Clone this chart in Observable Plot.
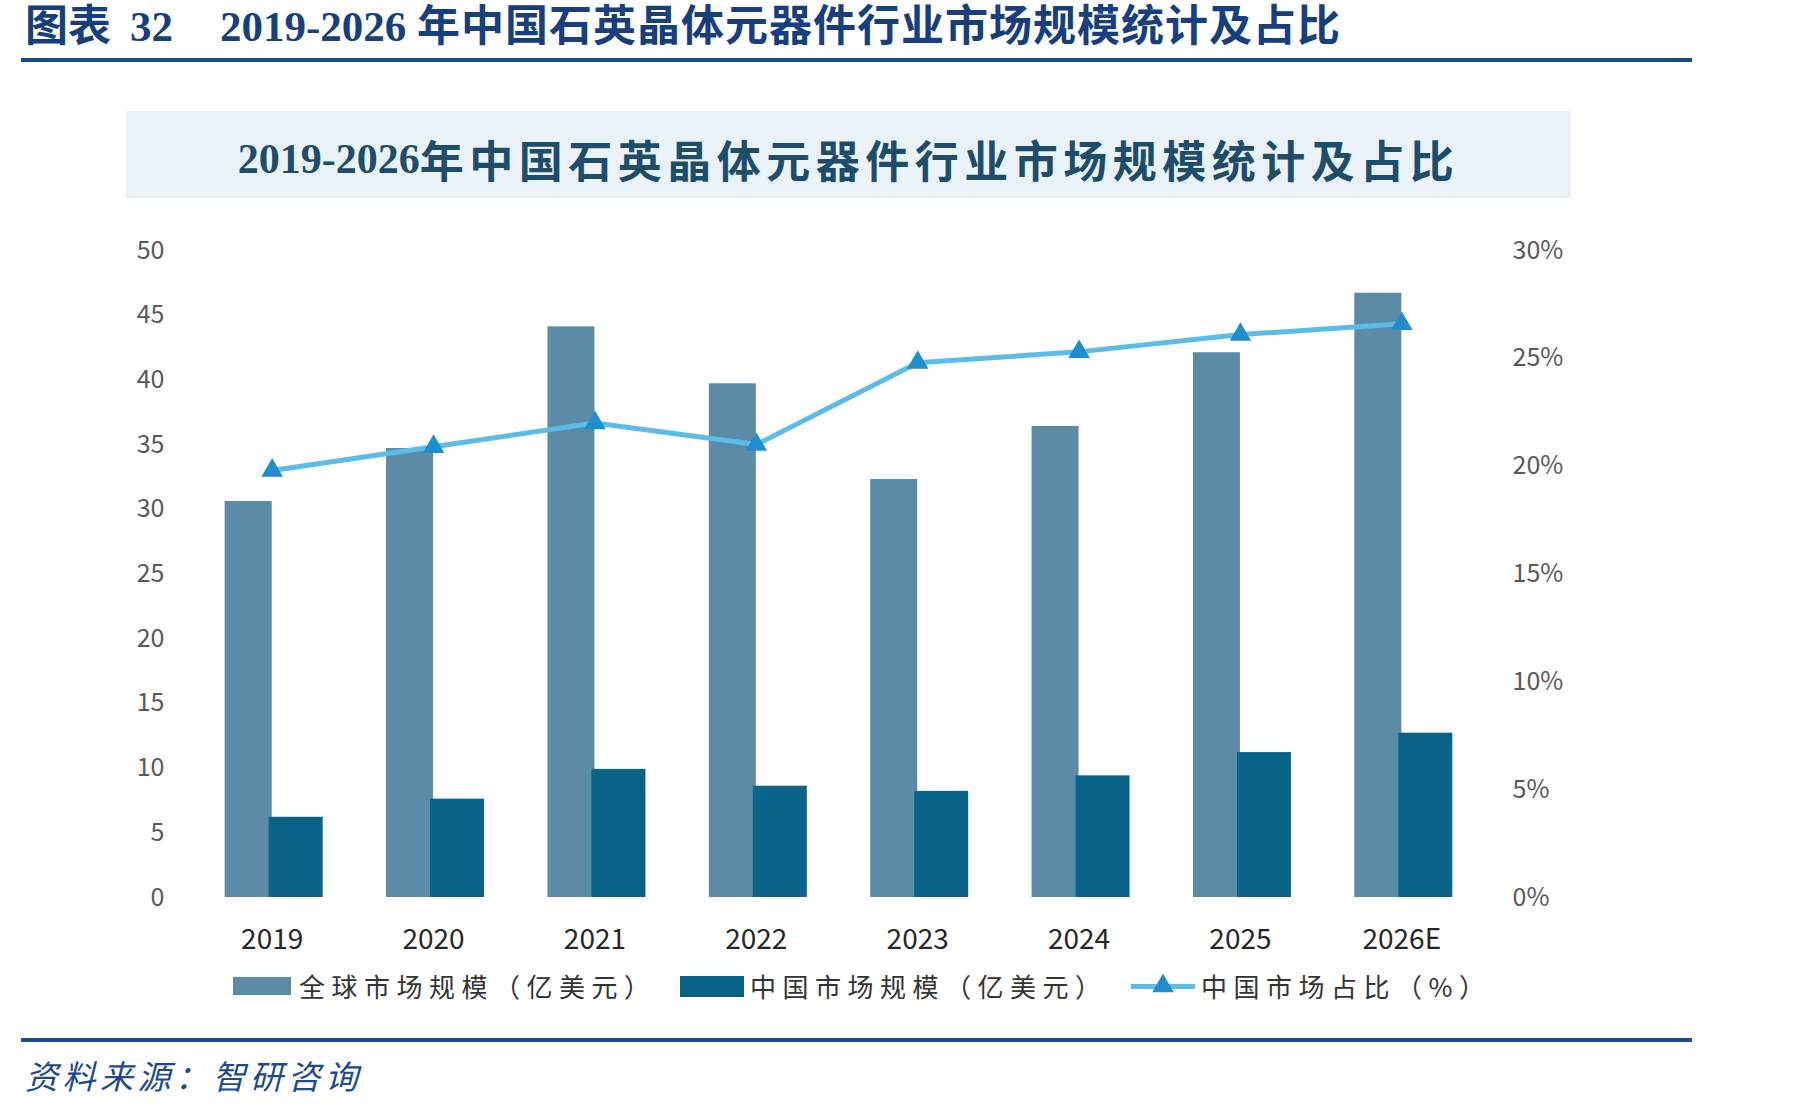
<!DOCTYPE html>
<html>
<head>
<meta charset="utf-8">
<script src="https://cdn.jsdelivr.net/npm/d3@7"></script>
<script src="https://cdn.jsdelivr.net/npm/@observablehq/plot@0.6"></script>
<style>
  html, body { margin: 0; padding: 0; background: #ffffff; }
  body { width: 1801px; height: 1108px; position: relative; overflow: hidden; font-family: "Noto Sans CJK SC", "Noto Sans", sans-serif; }
  .abs { position: absolute; }
  #header { left: 25px; top: 2px; font-family: "Liberation Serif", "Noto Sans CJK SC", serif; font-weight: bold; font-size: 43px; color: #173f7d; white-space: pre; line-height: 50px; }
  #header .cjk { letter-spacing: 1px; }
  .rule { left: 21px; width: 1671px; height: 4px; background: #1d4a8c; }
  #band { left: 126px; top: 111px; width: 1445px; height: 87px; background: #eaf3fa; }
  #ctitle { left: 126px; top: 115px; width: 1445px; height: 87px; display: flex; align-items: center; justify-content: center; color: #1e4c6b; font-weight: bold; white-space: pre; }
  #ctitle .num { font-family: "Liberation Serif", serif; font-size: 42px; }
  #ctitle .cjk { font-family: "Noto Sans CJK SC", sans-serif; font-size: 44px; letter-spacing: 5.5px; }
  #chart { left: 0; top: 200px; }
  .leg { font-size: 26px; letter-spacing: 6.5px; color: #333333; line-height: 30px; white-space: pre; }
  #caption { left: 25px; top: 1052px; font-size: 33px; font-style: italic; color: #1d4a8c; letter-spacing: 4.5px; white-space: pre; line-height: 46px; }
</style>
</head>
<body>
<div id="header" class="abs"><span>图表</span><span style="margin-left:19px">32</span><span style="margin-left:47px">2019-2026 </span><span class="cjk">年中国石英晶体元器件行业市场规模统计及占比</span></div>
<div class="abs rule" style="top:58px"></div>
<div id="band" class="abs"></div>
<div id="ctitle" class="abs"><span class="num">2019-2026</span><span class="cjk">年中国石英晶体元器件行业市场规模统计及占比</span></div>
<div id="chart" class="abs"></div>
<div id="legend"></div>
<div class="abs rule" style="top:1038px"></div>
<div id="caption" class="abs">资料来源：智研咨询</div>
<script>
// ---- data ----
const years = ["2019", "2020", "2021", "2022", "2023", "2024", "2025", "2026E"];
const globalMarket = [30.6, 34.7, 44.1, 39.7, 32.3, 36.4, 42.1, 46.7];   // 亿美元
const chinaMarket  = [6.2, 7.6, 9.9, 8.6, 8.2, 9.4, 11.2, 12.7];         // 亿美元
const chinaShare   = [19.8, 20.9, 22.0, 21.0, 24.8, 25.3, 26.1, 26.6];   // %
const leftTicks  = [0, 5, 10, 15, 20, 25, 30, 35, 40, 45, 50];
const rightTicks = [0, 5, 10, 15, 20, 25, 30];                           // %
const seriesNames = ["全球市场规模（亿美元）", "中国市场规模（亿美元）", "中国市场占比（%）"];
const colors = ["#5b8ba6", "#0a6389", "#5cbce8"];
const markerColor = "#1f8ecf";

// ---- layout ----
const W = 1801, H = 800;
const mL = 191, mR = 319, mT = 50, mB = 103;
const step = (W - mL - mR) / years.length;
const yMax = 50, shareMax = 30;

const rows = years.map((y, i) => ({year: y, g: globalMarket[i], c: chinaMarket[i], s: chinaShare[i]}));

const chart = Plot.plot({
  width: W, height: H,
  marginLeft: mL, marginRight: mR, marginTop: mT, marginBottom: mB,
  style: {fontFamily: "'Noto Sans CJK SC', 'Noto Sans', sans-serif", background: "transparent"},
  x: {type: "band", domain: years, padding: 0, round: false},
  y: {domain: [0, yMax]},
  marks: [
    Plot.barY(rows, {x: "year", y: "g", fill: colors[0], insetLeft: step / 2 - 47, insetRight: step / 2}),
    Plot.barY(rows, {x: "year", y: "c", fill: colors[1], insetLeft: step / 2 - 3, insetRight: step / 2 - 51}),
    Plot.ruleY([0], {stroke: "#d9d9d9", strokeWidth: 1.5, x1: mL + 4, x2: W - mR}),
    Plot.line(rows, {x: "year", y: d => d.s * yMax / shareMax, stroke: colors[2], strokeWidth: 5}),
    Plot.dot(rows, {x: "year", y: d => d.s * yMax / shareMax, symbol: "triangle", r: 8, fill: markerColor, stroke: "none"}),
    Plot.axisY(leftTicks, {anchor: "left", tickSize: 0, tickPadding: 27, fontSize: 25, fill: "#595959", label: null}),
    Plot.axisY(rightTicks.map(p => p * yMax / shareMax), {anchor: "right", tickSize: 0, tickPadding: 30, fontSize: 25, fill: "#595959", label: null,
      tickFormat: (d, i) => rightTicks[i] + "%"}),
    Plot.axisX({tickSize: 0, tickPadding: 32, fontSize: 28, fill: "#262626", label: null})
  ]
});
document.getElementById("chart").appendChild(chart);

// ---- legend ----
const legend = document.getElementById("legend");
const legItems = [
  {type: "rect", color: colors[0], sx: 233, sw: 58, sh: 18, tx: 299},
  {type: "rect", color: colors[1], sx: 680, sw: 64, sh: 21, tx: 750},
  {type: "line", color: colors[2], sx: 1131, sw: 64, sh: 5, tx: 1201}
];
const legCy = 986;
legItems.forEach((it, i) => {
  const sw = document.createElement("div");
  sw.className = "abs";
  sw.style.left = it.sx + "px";
  sw.style.top = (legCy - it.sh / 2) + "px";
  sw.style.width = it.sw + "px";
  sw.style.height = it.sh + "px";
  sw.style.background = it.color;
  legend.appendChild(sw);
  if (it.type === "line") {
    const svgNS = "http://www.w3.org/2000/svg";
    const s = document.createElementNS(svgNS, "svg");
    s.setAttribute("width", 24); s.setAttribute("height", 24);
    s.style.position = "absolute";
    s.style.left = (it.sx + it.sw / 2 - 12) + "px";
    s.style.top = (legCy - 12) + "px";
    const p = document.createElementNS(svgNS, "path");
    p.setAttribute("d", d3.symbol(d3.symbolTriangle, Math.PI * 8 * 8)());
    p.setAttribute("transform", "translate(12,12)");
    p.setAttribute("fill", markerColor);
    s.appendChild(p);
    legend.appendChild(s);
  }
  const t = document.createElement("div");
  t.className = "abs leg";
  t.style.left = it.tx + "px";
  t.style.top = (legCy - 15) + "px";
  t.textContent = seriesNames[i];
  legend.appendChild(t);
});
</script>
</body>
</html>
